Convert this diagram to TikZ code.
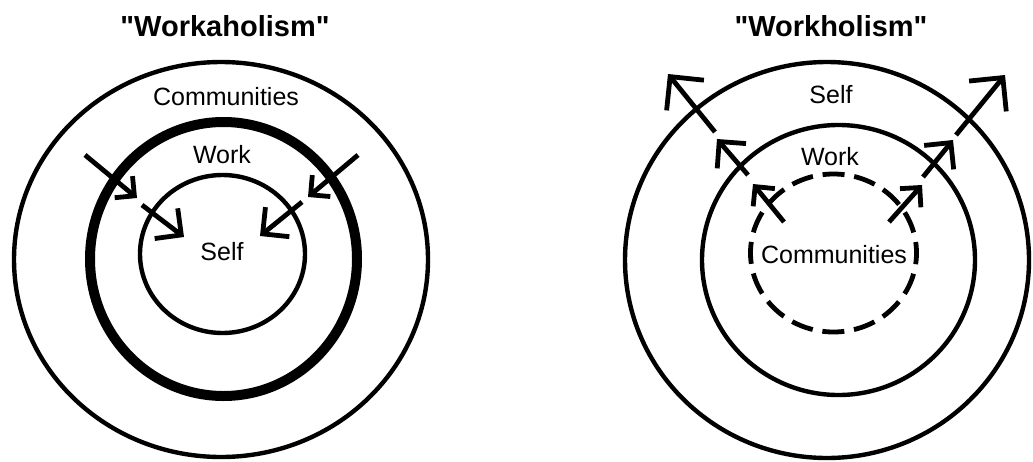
\documentclass[tikz,border=0pt]{standalone}
\usepackage{fontspec}
\setmainfont{Liberation Sans}
\font\ttlfont="Liberation Sans/B" at 29pt
\usetikzlibrary{arrows.meta}

\begin{document}
\begin{tikzpicture}[x=1pt, y=-1pt,
  ring/.style={draw, line width=4.4pt},
  heavyring/.style={draw, line width=10pt},
  dashring/.style={draw, line width=4.8pt, dash pattern=on 22pt off 9.8pt, dash phase=11pt},
  lbl/.style={anchor=base, inner sep=0pt, font=\fontsize{25}{29}\selectfont},
  ttl/.style={anchor=base, inner sep=0pt, font=\ttlfont},
  arrS/.style={-{Straight Barb[length=14pt, width=28pt]}, line width=4.8pt},
  arrM/.style={-{Straight Barb[length=19pt, width=38pt]}, line width=4.8pt},
  arrL/.style={-{Straight Barb[length=24pt, width=48pt]}, line width=4.8pt}]
  \useasboundingbox (0,0) rectangle (1033,461);
  \fill[white] (0,0) rectangle (1033,461);
  \clip (0,0) rectangle (1033,461);
  % left: workaholism
  \coordinate (cLo) at (221,259.5);
  \coordinate (cLm) at (223.5,259);
  \coordinate (cLi) at (222.5,254);
  \draw[ring] (cLo) ellipse [x radius=207pt, y radius=197.5pt];
  \draw[heavyring] (cLm) ellipse [x radius=133.5pt, y radius=137pt];
  \draw[ring] (cLi) ellipse [x radius=82.5pt, y radius=79pt];
  \node[ttl] (titleL) at (225,36) {"Workaholism"};
  \node[lbl] (commL) at (226,105) {Communities};
  \node[lbl] (workL) at (222,163) {Work};
  \node[lbl] (selfL) at (222,260) {Self};
  \coordinate (la1) at (85,155);   \coordinate (lb1) at (137,198);
  \coordinate (la2) at (142,205);  \coordinate (lb2) at (184,237);
  \coordinate (ra1) at (358,155);  \coordinate (rb1) at (308,197);
  \coordinate (ra2) at (302,202);  \coordinate (rb2) at (260,236);
  \foreach \n in {l,r} { \draw[arrS] (\n a1) -- (\n b1); \draw[arrM] (\n a2) -- (\n b2); }
  % right: workholism
  \coordinate (cRo) at (827,260);
  \coordinate (cRm) at (838.5,260);
  \coordinate (cRi) at (833.5,253);
  \draw[ring] (cRo) ellipse [x radius=202pt, y radius=198pt];
  \draw[ring] (cRm) ellipse [x radius=136.5pt, y radius=135pt];
  \draw[dashring] (cRi) ellipse [x radius=83pt, y radius=79pt];
  \node[ttl] (titleR) at (831,36) {"Workholism"};
  \node[lbl] (selfR) at (831,103) {Self};
  \node[lbl] (workR) at (830,165) {Work};
  \node[lbl] (commR) at (834,263) {Communities};
  \coordinate (pa1) at (784,222);  \coordinate (pb1) at (753,184);
  \coordinate (pa2) at (748,175);  \coordinate (pb2) at (717,139);
  \coordinate (pa3) at (715,132);  \coordinate (pb3) at (668,74);
  \coordinate (qa1) at (889,222);  \coordinate (qb1) at (922,185);
  \coordinate (qa2) at (923,177);  \coordinate (qb2) at (953,140);
  \coordinate (qa3) at (956,135);  \coordinate (qb3) at (1005,75);
  \foreach \n in {p,q} { \draw[arrS] (\n a1) -- (\n b1); \draw[arrM] (\n a2) -- (\n b2); \draw[arrL] (\n a3) -- (\n b3); }
\end{tikzpicture}
\end{document}
